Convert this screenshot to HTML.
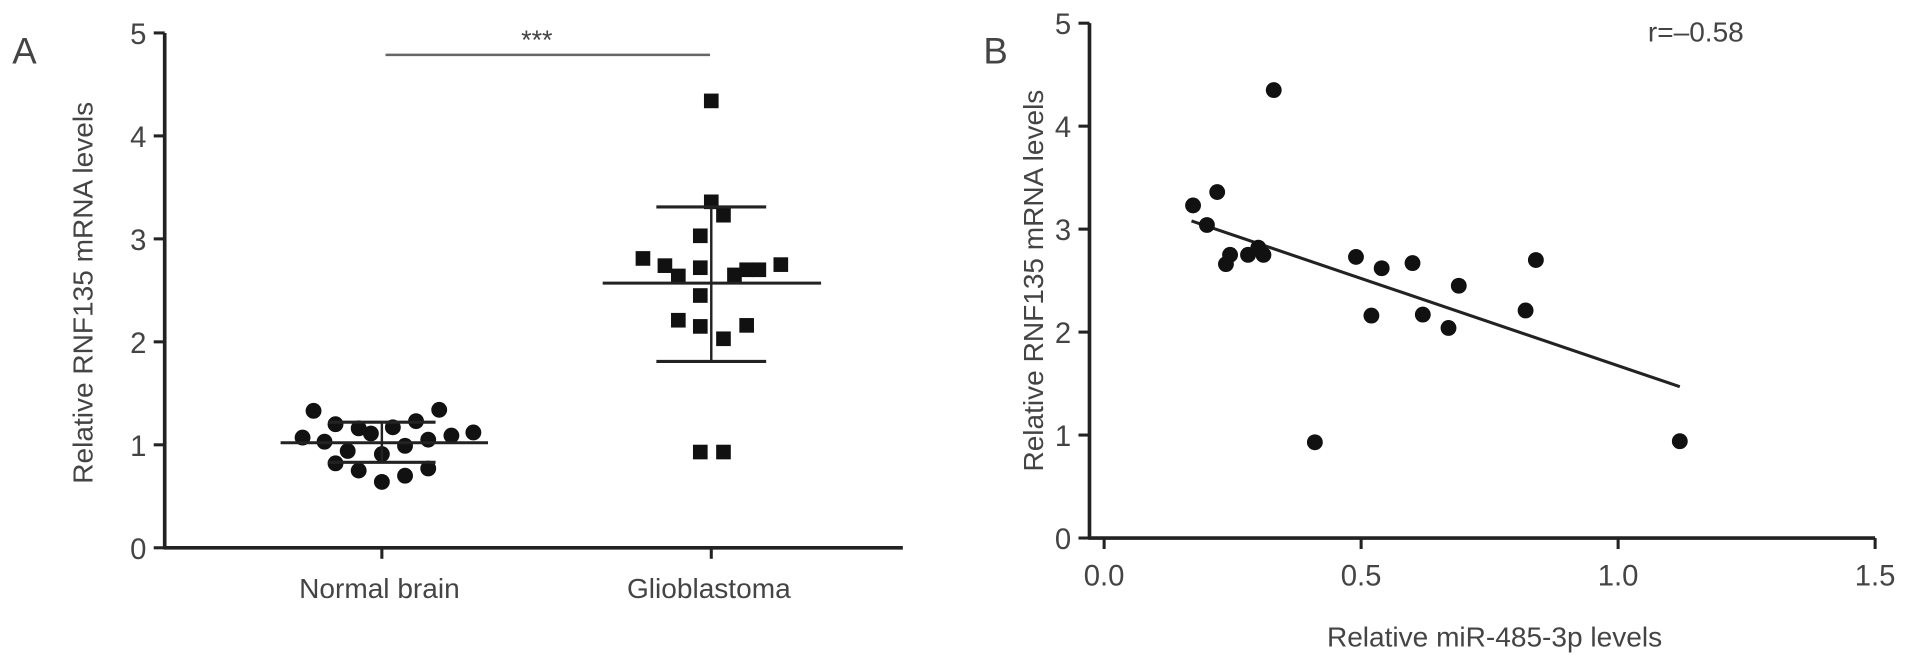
<!DOCTYPE html>
<html><head><meta charset="utf-8"><style>
html,body{margin:0;padding:0;background:#fff;overflow:hidden;width:1913px;height:669px;}
svg{display:block;}
svg text{font-family:"Liberation Sans",sans-serif;fill:#444;}
</style></head><body>
<svg id="c" width="1913" height="669" viewBox="0 0 1568 548.35" preserveAspectRatio="none" xmlns="http://www.w3.org/2000/svg"></svg>
<script>
const yTicks=[0,1,2,3,4,5];
const normalVals=[1.33,1.34,1.20,1.16,1.11,1.17,1.23,1.07,1.03,1.05,1.09,1.12,0.99,0.94,0.91,0.82,0.75,0.77,0.70,0.64];
const normalOff=[-56,47,-38,-19,-9,9,28,-65,-47,38,57,75,19,-28,0,-38,-19,38,19,0];
const glioVals=[4.34,3.36,3.23,3.03,2.81,2.74,2.64,2.72,2.65,2.70,2.70,2.75,2.45,2.21,2.15,2.16,2.03,0.93,0.93];
const glioOff=[0,0,10,-9,-56,-38,-27,-9,19,29,39,57,-9,-27,-9,29,10,-9,10];
const groupStats=[{mean:1.02,lo:0.83,hi:1.22},{mean:2.57,lo:1.81,hi:3.31}];
const categories=["Normal brain","Glioblastoma"];
const bX=[0.173,0.22,0.20,0.237,0.245,0.28,0.30,0.31,0.33,0.41,0.49,0.52,0.54,0.60,0.62,0.67,0.69,0.82,0.84,1.12];
const bY=[3.23,3.36,3.04,2.66,2.75,2.75,2.82,2.75,4.35,0.93,2.73,2.16,2.62,2.67,2.17,2.04,2.45,2.21,2.70,0.94];
const xTicksB=[0,0.5,1.0,1.5];
const fitLine=[[0.17,3.08],[1.12,1.47]];

const svg=document.getElementById('c');
const NS='http://www.w3.org/2000/svg';
function mk(t,a,txt){const e=document.createElementNS(NS,t);for(const k in a)e.setAttribute(k,a[k]);if(txt!==undefined)e.textContent=txt;svg.appendChild(e);return e;}
const yA=v=>449-v*84.4;
const catX=[313,583];
let e;
e=mk('text',{x:10,y:52,'font-size':30});e.textContent='A';


e=mk('line',{x1:135,y1:yA(0),x2:135,y2:yA(5),stroke:'#222','stroke-width':3});


e=mk('line',{x1:134,y1:yA(0),x2:740,y2:yA(0),stroke:'#222','stroke-width':3});


yTicks.forEach(v=>{
 e=mk('line',{x1:126,y1:yA(v),x2:135,y2:yA(v),stroke:'#222','stroke-width':2.5});
 
 
 e=mk('text',{x:120,y:yA(v)+9,'font-size':24,'text-anchor':'end'},String(v));
 
 
});
e=mk('text',{x:0,y:0,'font-size':23,'text-anchor':'middle',transform:'translate(76,240) rotate(-90)'},'Relative RNF135 mRNA levels');


categories.forEach((c,i)=>{
 e=mk('line',{x1:catX[i],y1:yA(0),x2:catX[i],y2:yA(0)+9,stroke:'#222','stroke-width':2.5});
 
 
 e=mk('text',{x:catX[i]-2,y:490,'font-size':23,'text-anchor':'middle'},c);
 
 
});
normalVals.forEach((v,i)=>{
 e=mk('circle',{cx:catX[0]+normalOff[i],cy:yA(v),r:6.5,fill:'#111'});
 
 
});
glioVals.forEach((v,i)=>{
 e=mk('rect',{x:catX[1]+glioOff[i]-6,y:yA(v)-6,width:12,height:12,fill:'#111'});
 
 
});
const meanW=[[83,87],[89,90]],sdW=[44,45];
groupStats.forEach((s,i)=>{
 const cx=catX[i];
 e=mk('line',{x1:cx-meanW[i][0],y1:yA(s.mean),x2:cx+meanW[i][1],y2:yA(s.mean),stroke:'#222','stroke-width':2.5});
 
 
 e=mk('line',{x1:cx,y1:yA(s.lo),x2:cx,y2:yA(s.hi),stroke:'#222','stroke-width':2});
 
 
 [s.lo,s.hi].forEach(v=>{
  e=mk('line',{x1:cx-sdW[i],y1:yA(v),x2:cx+sdW[i],y2:yA(v),stroke:'#222','stroke-width':2.5});
  
  
 });
});
e=mk('line',{x1:316,y1:45,x2:582,y2:45,stroke:'#666','stroke-width':2});


e=mk('text',{x:440,y:40,'font-size':22,'text-anchor':'middle',fill:'#999'},'***');


const xB=v=>905+v*421.3, yB=v=>441-v*84.4;
e=mk('text',{x:806,y:52,'font-size':30},'B');


e=mk('line',{x1:893,y1:yB(0),x2:893,y2:yB(5),stroke:'#222','stroke-width':3});


e=mk('line',{x1:892,y1:yB(0),x2:xB(1.5),y2:yB(0),stroke:'#222','stroke-width':3});


yTicks.forEach(v=>{
 e=mk('line',{x1:884,y1:yB(v),x2:893,y2:yB(v),stroke:'#222','stroke-width':2.5});
 
 
 e=mk('text',{x:878,y:yB(v)+9,'font-size':24,'text-anchor':'end'},String(v));
 
 
});
xTicksB.forEach(v=>{
 e=mk('line',{x1:xB(v),y1:yB(0),x2:xB(v),y2:yB(0)+9,stroke:'#222','stroke-width':2.5});
 
 
 e=mk('text',{x:xB(v),y:480,'font-size':24,'text-anchor':'middle'},v.toFixed(1));
 
 
});
e=mk('text',{x:0,y:0,'font-size':23,'text-anchor':'middle',transform:'translate(855,230) rotate(-90)'},'Relative RNF135 mRNA levels');


e=mk('text',{x:1225,y:530,'font-size':23,'text-anchor':'middle'},'Relative miR-485-3p levels');


e=mk('text',{x:1390,y:34,'font-size':23,'text-anchor':'middle'},'r=\u20130.58');


e=mk('line',{x1:xB(fitLine[0][0]),y1:yB(fitLine[0][1]),x2:xB(fitLine[1][0]),y2:yB(fitLine[1][1]),stroke:'#222','stroke-width':2.5});


bX.forEach((x,i)=>{
 e=mk('circle',{cx:xB(x),cy:yB(bY[i]),r:6.5,fill:'#111'});
 
 
});
</script>
</body></html>
